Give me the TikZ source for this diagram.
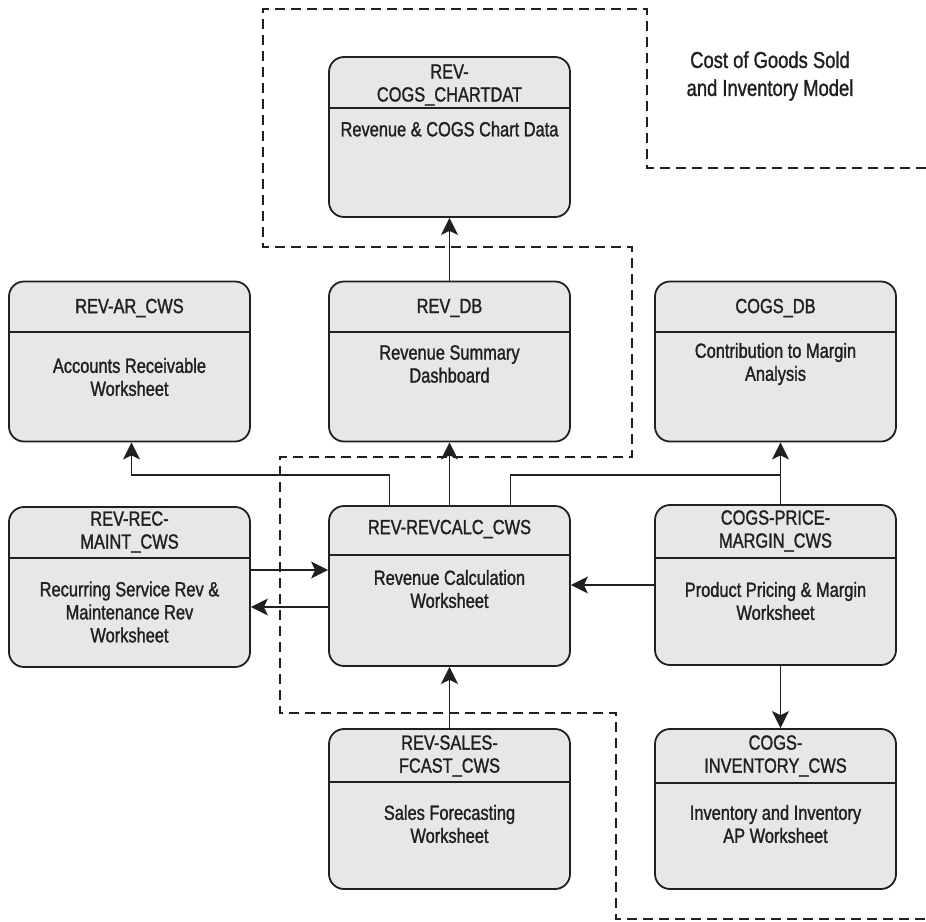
\documentclass[tikz,border=0pt]{standalone}
\usepackage{fontspec}
\setmainfont{Liberation Sans}[FakeStretch=0.8,FakeBold=1.3]
\usetikzlibrary{arrows.meta,calc}
\definecolor{ink}{HTML}{231F20}
\definecolor{boxfill}{HTML}{E6E7E8}
\begin{document}
\begin{tikzpicture}[x=1pt,y=-1pt,
  box/.style={draw=ink, line width=1.8pt, fill=boxfill, rounded corners=15pt,
    minimum width=241pt, minimum height=160pt, inner sep=0pt},
  lbl/.style={text=ink, font=\fontsize{20.5}{23}\selectfont, align=center, inner sep=0pt},
  note/.style={text=ink, font=\fontsize{23}{28}\selectfont, align=center, inner sep=0pt},
  arr/.style={draw=ink, line width=1.7pt, -{Stealth[length=17pt,width=17pt,inset=4pt]}},
  conn/.style={draw=ink, line width=1.7pt},
  divider/.style={draw=ink, line width=1.7pt},
  bound/.style={draw=ink, line width=1.7pt, dash pattern=on 10pt off 6pt}]
\useasboundingbox (0,0) rectangle (926,921);

% boundary of the revenue model
\draw[bound] (926,168) -- (647,168) -- (647,9) -- (263,9) -- (263,247) -- (632,247)
  -- (632,457) -- (280,457) -- (280,713) -- (616,713) -- (616,919) -- (926,919);
\node[note] (title) at (770,76) {Cost of Goods Sold\\and Inventory Model};

% boxes
\node[box] (chart)  at (449.5,137) {};
\node[box] (ar)     at (129.5,361.5) {};
\node[box] (revdb)  at (449.5,361.5) {};
\node[box] (cogsdb) at (775.5,361.5) {};
\node[box] (recm)   at (129.5,587) {};
\node[box] (calc)   at (449.5,586) {};
\node[box] (price)  at (775.5,585) {};
\node[box] (sales)  at (449.5,809) {};
\node[box] (inv)    at (775.5,809) {};

% dividers
\draw[divider] (chart.west |- 0,108) -- (chart.east |- 0,108);
\draw[divider] (ar.west |- 0,332) -- (ar.east |- 0,332);
\draw[divider] (revdb.west |- 0,332) -- (revdb.east |- 0,332);
\draw[divider] (cogsdb.west |- 0,332) -- (cogsdb.east |- 0,332);
\draw[divider] (recm.west |- 0,558) -- (recm.east |- 0,558);
\draw[divider] (calc.west |- 0,555) -- (calc.east |- 0,555);
\draw[divider] (price.west |- 0,558) -- (price.east |- 0,558);
\draw[divider] (sales.west |- 0,782) -- (sales.east |- 0,782);
\draw[divider] (inv.west |- 0,783) -- (inv.east |- 0,783);

% texts
\node[lbl] (chart-t)  at (449.5,85)  {REV-\\COGS\_CHARTDAT};
\node[lbl] (chart-b)  at (449.5,129) {Revenue \& COGS Chart Data};
\node[lbl] (ar-t)     at (129.5,308) {REV-AR\_CWS};
\node[lbl] (ar-b)     at (129.5,377) {Accounts Receivable\\Worksheet};
\node[lbl] (revdb-t)  at (449.5,308) {REV\_DB};
\node[lbl] (revdb-b)  at (449.5,364) {Revenue Summary\\Dashboard};
\node[lbl] (cogsdb-t) at (775.5,308) {COGS\_DB};
\node[lbl] (cogsdb-b) at (775.5,364) {Contribution to Margin\\Analysis};
\node[lbl] (recm-t)   at (129.5,532) {REV-REC-\\MAINT\_CWS};
\node[lbl] (recm-b)   at (129.5,612) {Recurring Service Rev \&\\Maintenance Rev\\Worksheet};
\node[lbl] (calc-t)   at (449.5,529) {REV-REVCALC\_CWS};
\node[lbl] (calc-b)   at (449.5,589) {Revenue Calculation\\Worksheet};
\node[lbl] (price-t)  at (775.5,531) {COGS-PRICE-\\MARGIN\_CWS};
\node[lbl] (price-b)  at (775.5,601) {Product Pricing \& Margin\\Worksheet};
\node[lbl] (sales-t)  at (449.5,756) {REV-SALES-\\FCAST\_CWS};
\node[lbl] (sales-b)  at (449.5,824) {Sales Forecasting\\Worksheet};
\node[lbl] (inv-t)    at (775.5,756) {COGS-\\INVENTORY\_CWS};
\node[lbl] (inv-b)    at (775.5,824) {Inventory and Inventory\\AP Worksheet};

% connectors
\draw[arr] (revdb.north) -- (chart.south);
\draw[arr] (calc.north) -- (revdb.south);
\draw[arr] ([xshift=-60pt]calc.north) |- ([xshift=2pt]ar.south |- 0,475) -- ([xshift=2pt]ar.south);
\draw[conn] ([xshift=61pt]calc.north) |- ([xshift=5pt]cogsdb.south |- 0,475);
\draw[arr] ([xshift=5pt]price.north) -- ([xshift=5pt]cogsdb.south);
\draw[arr] (recm.east |- 0,570) -- (calc.west |- 0,570);
\draw[arr] (calc.west |- 0,607) -- (recm.east |- 0,607);
\draw[arr] (price.west |- 0,585) -- (calc.east |- 0,585);
\draw[arr] ([xshift=5pt]price.south) -- ([xshift=5pt]inv.north);
\draw[arr] (sales.north) -- (calc.south);
\end{tikzpicture}
\end{document}
